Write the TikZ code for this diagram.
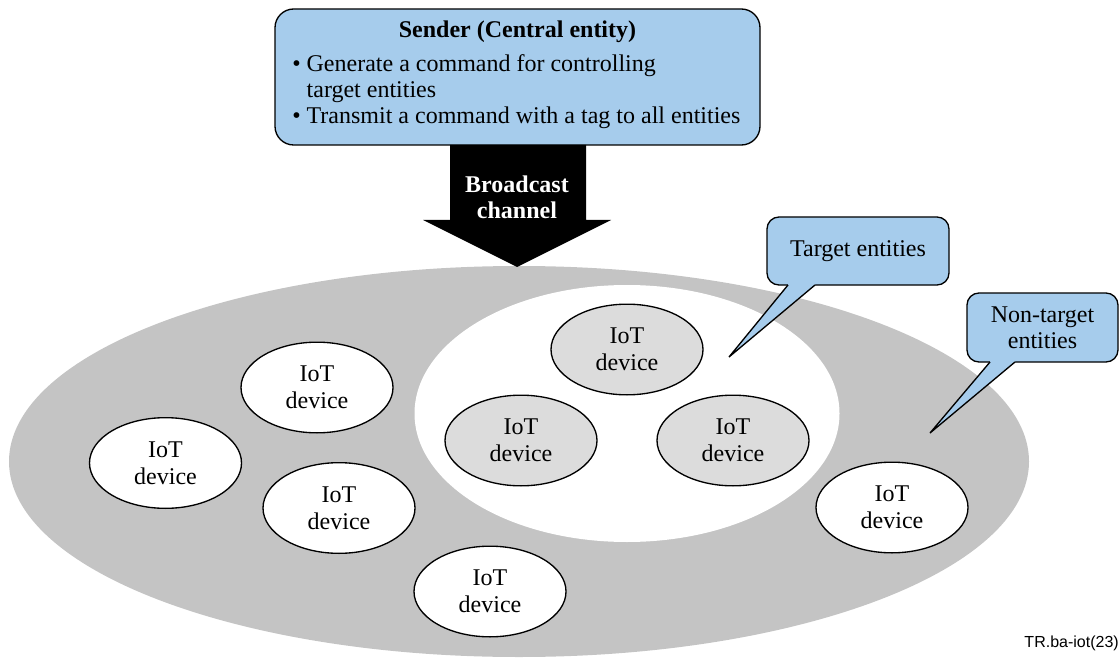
\documentclass[tikz,border=0pt]{standalone}
\usepackage{fontspec}
\setmainfont{Liberation Serif}
\newfontfamily\arialfont{Liberation Sans}
\usetikzlibrary{shapes.geometric}
\definecolor{boxblue}{RGB}{166,204,236}
\definecolor{outergray}{RGB}{196,196,196}
\definecolor{innergray}{RGB}{220,220,220}
\tikzset{
  txt/.style={font=\fontsize{18}{19.5}\selectfont},
  iot/.style={ellipse, draw=black, line width=1pt, inner sep=0pt,
    minimum width=114pt, minimum height=68pt, align=center,
    font=\fontsize{18}{20}\selectfont},
  iotwhite/.style={iot, fill=white},
  iotgray/.style={iot, fill=innergray},
  callout/.style={draw=black, line width=1pt, fill=boxblue, rounded corners=9pt,
    inner sep=0pt, align=center, font=\fontsize{18}{19.5}\selectfont},
}
\begin{document}
\begin{tikzpicture}[x=0.75pt,y=-0.75pt]
\useasboundingbox (0,0) rectangle (1120,659);

% zones
\node (outer) [ellipse, fill=outergray, inner sep=0pt, minimum width=765pt, minimum height=293.25pt] at (519,461.5) {};
\node (inner) [ellipse, fill=white, inner sep=0pt, minimum width=318.75pt, minimum height=192.75pt] at (627,413.5) {};

% sender box
\node (sender) [draw=black, line width=1pt, fill=boxblue, rounded corners=14pt,
  minimum width=363.75pt, minimum height=102pt, inner sep=0pt] at (517.5,77) {};
\node (title) [txt, font=\fontsize{18}{19.5}\selectfont\bfseries] at (517.5,32) {Sender (Central entity)};
\node (bullets) [txt, anchor=west, inner sep=0pt] at (292,92)
  {\begin{tabular}{@{}l@{}}• Generate a command for controlling\\
   \hphantom{• }target entities\\
   • Transmit a command with a tag to all entities\end{tabular}};

% broadcast arrow
\coordinate (atip) at (517,267);
\fill[black] (450,145) -- (450,220) -- (423,220) -- (atip) -- (611,220) -- (586,220) -- (586,145) -- cycle;
\node (bc) [txt, font=\fontsize{18}{19.5}\selectfont\bfseries, text=white, align=center] at (517,197) {Broadcast\\channel};

% IoT devices
\node (d1) [iotwhite] at (165.5,463) {IoT\\device};
\node (d2) [iotwhite] at (317,387.5) {IoT\\device};
\node (d3) [iotwhite] at (339,508) {IoT\\device};
\node (d4) [iotwhite] at (490,591.5) {IoT\\device};
\node (d5) [iotwhite] at (892,507.5) {IoT\\device};
\node (t1) [iotgray] at (627,349.5) {IoT\\device};
\node (t2) [iotgray] at (521,440.5) {IoT\\device};
\node (t3) [iotgray] at (733,440.5) {IoT\\device};

% callouts
\node (ct) [callout, minimum width=136.5pt, minimum height=51pt] at (858,251) {Target entities};
\coordinate (ctip) at (729,357);
\coordinate (cb1) at (788,285);
\coordinate (cb2) at (815,285);
\fill[boxblue] ([yshift=2pt]cb1) -- (cb1) -- (ctip) -- (cb2) -- ([yshift=2pt]cb2) -- cycle;
\draw[line width=1pt, line join=miter] (cb1) -- (ctip) -- (cb2);

\node (cn) [callout, minimum width=113.25pt, minimum height=51.75pt] at (1042.5,327.5) {Non-target\\entities};
\coordinate (ntip) at (930,433);
\coordinate (nb1) at (990,362);
\coordinate (nb2) at (1015,362);
\fill[boxblue] ([yshift=2pt]nb1) -- (nb1) -- (ntip) -- (nb2) -- ([yshift=2pt]nb2) -- cycle;
\draw[line width=1pt, line join=miter] (nb1) -- (ntip) -- (nb2);

% figure id
\node (fid) [anchor=base east, inner sep=0pt, font=\arialfont\fontsize{12}{14}\selectfont] at (1119,647) {TR.ba-iot(23)};
\end{tikzpicture}
\end{document}
